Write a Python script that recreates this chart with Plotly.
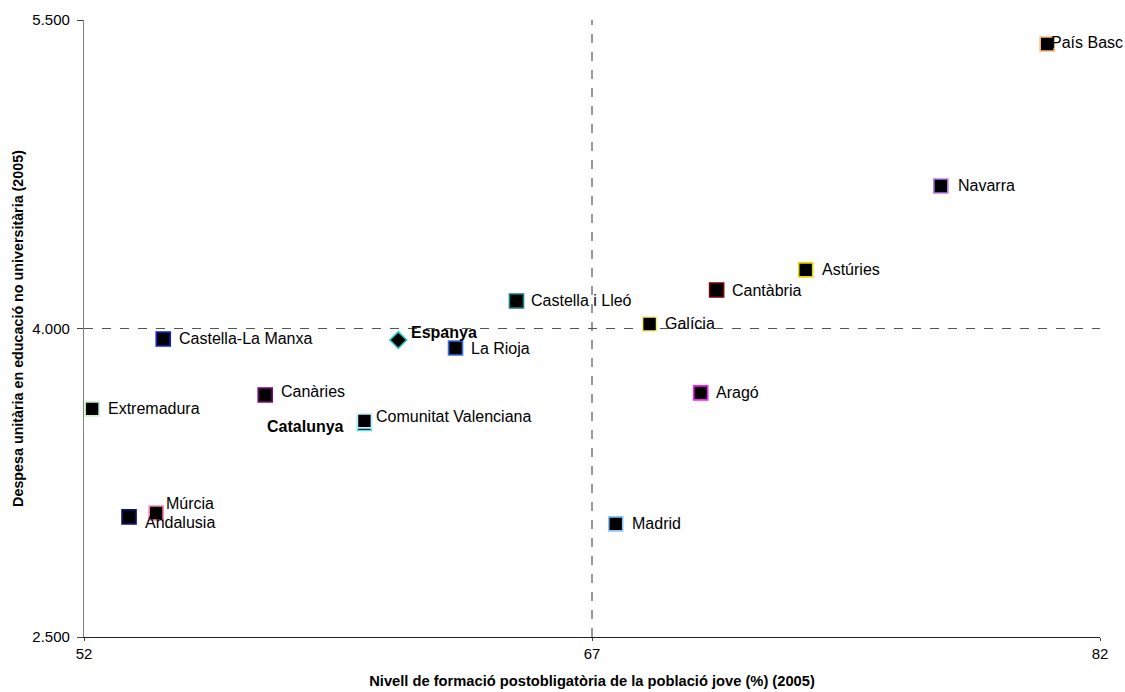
import plotly.graph_objects as go

regions = ["País Basc", "Navarra", "Astúries", "Cantàbria", "Castella i Lleó", "Galícia",
           "La Rioja", "Castella-La Manxa", "Canàries", "Aragó", "Extremadura",
           "Catalunya", "Comunitat Valenciana", "Múrcia", "Andalusia", "Madrid"]
formacio = [80.44, 77.30, 73.31, 70.68, 64.77, 68.70,
            62.97, 54.34, 57.35, 70.21, 52.24,
            60.28, 60.28, 54.13, 53.33, 67.70]
despesa = [5383, 4693, 4285, 4187, 4134, 4022,
           3905, 3949, 3677, 3687, 3609,
           3538, 3551, 3103, 3084, 3050]
border_colors = ["#FFB877", "#B57EEA", "#E6D800", "#7A0000", "#118080", "#F4F07A",
                 "#3D6BF0", "#1020E0", "#7A0A7A", "#FF1AFF", "#CCF5CC",
                 "#55E0F0", "#BFF5FA", "#FF88BB", "#101070", "#8EC4F5"]
label_shift = [(2, 2), (15, 0), (14, 0), (13, 0), (13, 0), (13, 0),
               (13, 0), (14, 0), (14, 3), (13, 0), (14, 0),
               (-18, -3), (10, 4), (8, 9), (14, -6), (14, 0)]
label_anchor = ["left"] * 11 + ["right"] + ["left"] * 4
label_bold = [False] * 11 + [True] + [False] * 4

espanya_x = [61.28]
espanya_y = [3944]

ref_x = 67
ref_y = 4000

x_ticks = [52, 67, 82]
y_ticks = [2500, 4000, 5500]

FONT = "Liberation Sans, Arial, sans-serif"

fig = go.Figure()

fig.add_trace(go.Scatter(
    x=formacio, y=despesa, mode="markers",
    marker=dict(symbol="square", size=14, color="black",
                line=dict(color=border_colors, width=1.6)),
    hoverinfo="skip", showlegend=False, cliponaxis=False))

fig.add_trace(go.Scatter(
    x=espanya_x, y=espanya_y, mode="markers",
    marker=dict(symbol="diamond", size=13, color="black",
                line=dict(color="#33CCCC", width=1.6)),
    hoverinfo="skip", showlegend=False, cliponaxis=False))

for name, x, y, (dx, dy), anc, bold in zip(regions, formacio, despesa, label_shift, label_anchor, label_bold):
    fig.add_annotation(x=x, y=y, text=f"<b>{name}</b>" if bold else name,
                       showarrow=False, xanchor=anc, yanchor="middle",
                       xshift=dx, yshift=dy,
                       font=dict(family=FONT, size=16, color="black"))

fig.add_annotation(x=espanya_x[0], y=espanya_y[0], text="<b>Espanya</b>",
                   showarrow=False, xanchor="left", yanchor="middle",
                   xshift=11, yshift=8,
                   font=dict(family=FONT, size=16, color="black"))

fig.add_shape(type="line", xref="x", yref="paper", x0=ref_x, x1=ref_x, y0=0, y1=1,
              line=dict(color="#555555", width=1.2, dash="dash"), layer="below")
fig.add_shape(type="line", xref="paper", yref="y", x0=0, x1=1, y0=ref_y, y1=ref_y,
              line=dict(color="#555555", width=1.2, dash="dash"), layer="below")

fig.update_layout(
    width=1125, height=692,
    margin=dict(l=84, r=25, t=20, b=55, autoexpand=False),
    paper_bgcolor="white", plot_bgcolor="white",
    separators=",.",
    font=dict(family=FONT, size=15, color="black"),
    xaxis=dict(range=[52, 82], tickvals=x_ticks, showgrid=False, zeroline=False,
               automargin=False,
               showline=True, linecolor="#222222", linewidth=1.2,
               ticks="outside", ticklen=3, tickcolor="#444444",
               tickfont=dict(family=FONT, size=15),
               title=dict(text="<b>Nivell de formació postobligatòria de la població jove (%) (2005)</b>",
                          font=dict(family=FONT, size=14.7), standoff=14)),
    yaxis=dict(range=[2500, 5500], tickvals=y_ticks, tickformat=",d", showgrid=False, zeroline=False,
               automargin=False,
               showline=True, linecolor="#808080", linewidth=1.2,
               ticks="outside", ticklen=6, tickcolor="#444444", ticklabelstandoff=4,
               tickfont=dict(family=FONT, size=15),
               title=dict(text="<b>Despesa unitària en educació no universitària (2005)</b>",
                          font=dict(family=FONT, size=14.3), standoff=5)),
)

fig.write_html("out.html", config={"displayModeBar": False},
               post_script="document.body.style.margin='0';document.body.style.overflow='hidden';")
